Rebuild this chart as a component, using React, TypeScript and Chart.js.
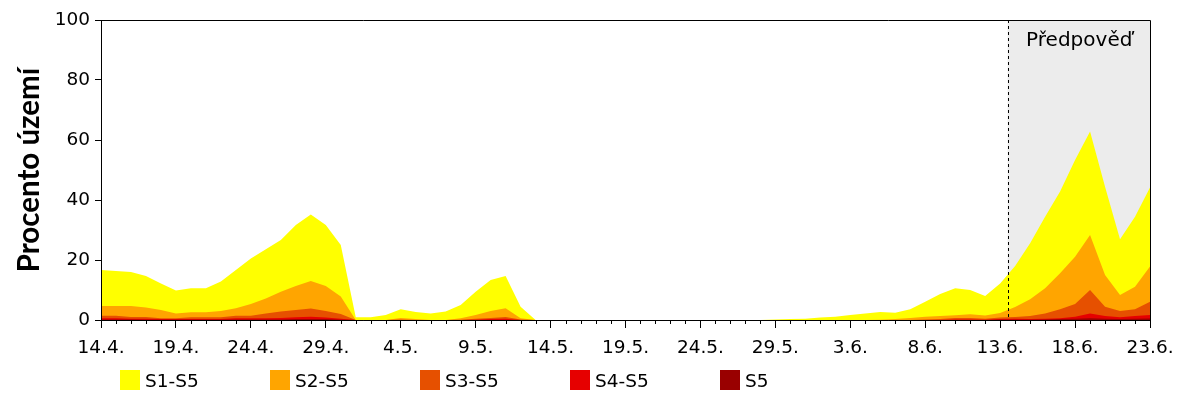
import React, { useEffect, useRef } from "react";
import { Chart, registerables } from "chart.js";

Chart.register(...registerables);

const DATES = [
  "14.4.", "15.4.", "16.4.", "17.4.", "18.4.", "19.4.", "20.4.", "21.4.", "22.4.", "23.4.",
  "24.4.", "25.4.", "26.4.", "27.4.", "28.4.", "29.4.", "30.4.",
  "1.5.", "2.5.", "3.5.", "4.5.", "5.5.", "6.5.", "7.5.", "8.5.", "9.5.", "10.5.",
  "11.5.", "12.5.", "13.5.", "14.5.", "15.5.", "16.5.", "17.5.", "18.5.", "19.5.", "20.5.",
  "21.5.", "22.5.", "23.5.", "24.5.", "25.5.", "26.5.", "27.5.", "28.5.", "29.5.", "30.5.", "31.5.",
  "1.6.", "2.6.", "3.6.", "4.6.", "5.6.", "6.6.", "7.6.", "8.6.", "9.6.", "10.6.",
  "11.6.", "12.6.", "13.6.", "14.6.", "15.6.", "16.6.", "17.6.", "18.6.", "19.6.", "20.6.",
  "21.6.", "22.6.", "23.6.",
];

// cumulative share of territory (%)
const S1_S5 = [
  16.7, 16.3, 16, 14.7, 12.2, 9.8, 10.6, 10.6, 12.8, 16.7,
  20.5, 23.6, 26.7, 31.7, 35.2, 31.7, 25, 0.9, 0.9, 1.7,
  3.6, 2.7, 2.2, 2.8, 5, 9.4, 13.3, 14.7, 4.4, 0,
  0, 0, 0, 0, 0, 0, 0, 0, 0, 0,
  0, 0, 0, 0, 0, 0.2, 0.3, 0.4, 0.8, 1.1,
  1.7, 2.2, 2.7, 2.4, 3.6, 6.1, 8.7, 10.6, 10, 8,
  12.2, 18, 25.6, 34.4, 42.8, 53.3, 62.8, 44.4, 26.9, 34.4,
  44.2,
];
const S2_S5 = [
  4.7, 4.7, 4.7, 4.2, 3.3, 2.2, 2.6, 2.6, 3, 3.9,
  5.3, 7.2, 9.4, 11.3, 13, 11.3, 7.8, 0, 0, 0,
  0.7, 0.3, 0, 0, 0.6, 1.7, 3, 3.9, 0.6, 0,
  0, 0, 0, 0, 0, 0, 0, 0, 0, 0,
  0, 0, 0, 0, 0, 0, 0, 0, 0, 0,
  0, 0, 0.1, 0.3, 0.7, 1.1, 1.3, 1.6, 1.9, 1.5,
  2.3, 4.3, 6.9, 10.6, 15.6, 21.1, 28.3, 15, 8.3, 11.1,
  17.8,
];
const S3_S5 = [
  1.4, 1.4, 1.0, 1.0, 0.6, 0.6, 0.9, 0.9, 0.9, 1.4,
  1.4, 2.2, 2.8, 3.3, 3.8, 3, 2, 0, 0, 0,
  0.2, 0, 0, 0, 0.1, 0.4, 0.7, 1.0, 0.2, 0,
  0, 0, 0, 0, 0, 0, 0, 0, 0, 0,
  0, 0, 0, 0, 0, 0, 0, 0, 0, 0,
  0, 0, 0, 0, 0, 0.2, 0.3, 0.7, 0.7, 0.4,
  0.8, 1.0, 1.3, 2.2, 3.6, 5.3, 10, 4.4, 3, 3.6,
  6.1,
];
const S4_S5 = [
  0.6, 0.6, 0.4, 0.4, 0.3, 0.3, 0.3, 0.3, 0.3, 0.6,
  0.6, 0.6, 0.7, 0.9, 1.1, 0.8, 0.4, 0, 0, 0,
  0, 0, 0, 0, 0, 0.1, 0.3, 0.4, 0, 0,
  0, 0, 0, 0, 0, 0, 0, 0, 0, 0,
  0, 0, 0, 0, 0, 0, 0, 0, 0, 0,
  0, 0, 0, 0, 0, 0, 0, 0.2, 0.2, 0.1,
  0.3, 0.4, 0.3, 0.4, 0.6, 1.1, 2.2, 1.3, 0.9, 1.3,
  1.7,
];
const S5 = [
  0.2, 0.2, 0.2, 0.1, 0.1, 0.1, 0.1, 0.1, 0.1, 0.2,
  0.2, 0.2, 0.2, 0.3, 0.3, 0.3, 0.1, 0, 0, 0,
  0, 0, 0, 0, 0, 0, 0, 0, 0, 0,
  0, 0, 0, 0, 0, 0, 0, 0, 0, 0,
  0, 0, 0, 0, 0, 0, 0, 0, 0, 0,
  0, 0, 0, 0, 0, 0, 0, 0, 0, 0,
  0.1, 0.1, 0.1, 0.2, 0.3, 0.4, 0.6, 0.4, 0.3, 0.4,
  0.5,
];

const SERIES_NAMES = ["S1-S5", "S2-S5", "S3-S5", "S4-S5", "S5"];
const SERIES_COLORS = ["#ffff00", "#ffa500", "#e65000", "#e60000", "#990000"];
const SERIES_DATA = [S1_S5, S2_S5, S3_S5, S4_S5, S5];

const Y_TITLE = "Procento území";
const FORECAST_LABEL = "Předpověď";
const FORECAST_START = 60.5; // index position on the day axis
const LABEL_EVERY = 5;

const FONT = "'DejaVu Sans', sans-serif";

const forecastPlugin = {
  id: "forecastPlugin",
  beforeDatasetsDraw(chart: any) {
    const { ctx, chartArea, scales } = chart;
    const x0 = scales.x.getPixelForValue(FORECAST_START);
    ctx.save();
    ctx.fillStyle = "#ececec";
    ctx.fillRect(x0, chartArea.top, chartArea.right - x0, chartArea.bottom - chartArea.top);
    ctx.restore();
  },
  afterDatasetsDraw(chart: any) {
    const { ctx, chartArea, scales } = chart;
    const x0 = Math.round(scales.x.getPixelForValue(FORECAST_START)) + 0.5;
    ctx.save();
    ctx.strokeStyle = "#000";
    ctx.lineWidth = 1;
    ctx.setLineDash([3, 3]);
    ctx.beginPath();
    ctx.moveTo(x0, chartArea.top);
    ctx.lineTo(x0, chartArea.bottom);
    ctx.stroke();
    ctx.setLineDash([]);
    ctx.fillStyle = "#000";
    ctx.font = `20px ${FONT}`;
    ctx.textAlign = "center";
    ctx.textBaseline = "middle";
    ctx.fillText(FORECAST_LABEL, (x0 + chartArea.right) / 2, chartArea.top + 21);
    // frame
    ctx.beginPath();
    ctx.rect(
      Math.round(chartArea.left) + 0.5,
      Math.round(chartArea.top) + 0.5,
      Math.round(chartArea.right - chartArea.left),
      Math.round(chartArea.bottom - chartArea.top)
    );
    ctx.stroke();
    // minor day ticks
    const xs = scales.x;
    ctx.beginPath();
    for (let i = 0; i < DATES.length; i++) {
      if (i % LABEL_EVERY === 0) continue;
      const px = Math.round(xs.getPixelForValue(i)) + 0.5;
      ctx.moveTo(px, chartArea.bottom);
      ctx.lineTo(px, chartArea.bottom + 4);
    }
    ctx.stroke();
    ctx.restore();
  },
};

export default function App() {
  const canvasRef = useRef<HTMLCanvasElement | null>(null);

  useEffect(() => {
    if (!canvasRef.current) return;
    const datasets = SERIES_DATA.map((d, k) => ({
      label: SERIES_NAMES[k],
      data: d,
      backgroundColor: SERIES_COLORS[k],
      borderColor: SERIES_COLORS[k],
      borderWidth: 0,
      pointRadius: 0,
      fill: "origin",
      tension: 0,
      order: SERIES_DATA.length - k,
    }));

    const chart = new Chart(canvasRef.current, {
      type: "line",
      data: { labels: DATES, datasets },
      plugins: [forecastPlugin],
      options: {
        animation: false,
        responsive: false,
        maintainAspectRatio: false,
        layout: { padding: { top: 20, right: 50, left: 0, bottom: 0 } },
        plugins: { legend: { display: false }, tooltip: { enabled: false } },
        scales: {
          x: {
            type: "category",
            offset: false,
            afterFit(scale: any) {
              scale.height = 80;
            },
            border: { color: "#000", width: 1 },
            grid: {
              drawOnChartArea: false,
              tickLength: 8,
              color: (c: any) => (c.index % LABEL_EVERY === 0 ? "#000" : "rgba(0,0,0,0)"),
            },
            ticks: {
              autoSkip: false,
              maxRotation: 0,
              minRotation: 0,
              padding: 9,
              color: "#000",
              font: { family: FONT, size: 18.5 },
              callback: (_v: any, i: number) => (i % LABEL_EVERY === 0 ? DATES[i] : ""),
            },
          },
          y: {
            min: 0,
            max: 100,
            afterFit(scale: any) {
              scale.width = 101;
            },
            border: { color: "#000", width: 1 },
            grid: { drawOnChartArea: false, tickLength: 6, color: "#000" },
            ticks: {
              stepSize: 20,
              padding: 5,
              color: "#000",
              font: { family: FONT, size: 18.5 },
            },
            title: {
              display: true,
              text: Y_TITLE,
              color: "#000",
              font: { family: "Lato, sans-serif", size: 29.5, weight: "bold" },
              padding: { top: 12, bottom: 0 },
            },
          },
        },
      },
    });
    return () => chart.destroy();
  }, []);

  return (
    <div style={{ position: "fixed", left: 0, top: 0, width: 1200, height: 400, background: "#fff" }}>
      <canvas ref={canvasRef} width={1200} height={400} style={{ display: "block", width: 1200, height: 400 }} />
      {SERIES_NAMES.map((name, k) => (
        <div
          key={name}
          style={{
            position: "absolute",
            left: 120 + 150 * k,
            top: 370,
            height: 20,
            display: "flex",
            alignItems: "center",
            fontFamily: FONT,
            fontSize: 18.5,
            color: "#000",
            whiteSpace: "nowrap",
          }}
        >
          <span style={{ display: "inline-block", width: 20, height: 20, background: SERIES_COLORS[k], marginRight: 5 }} />
          <span>{name}</span>
        </div>
      ))}
    </div>
  );
}
